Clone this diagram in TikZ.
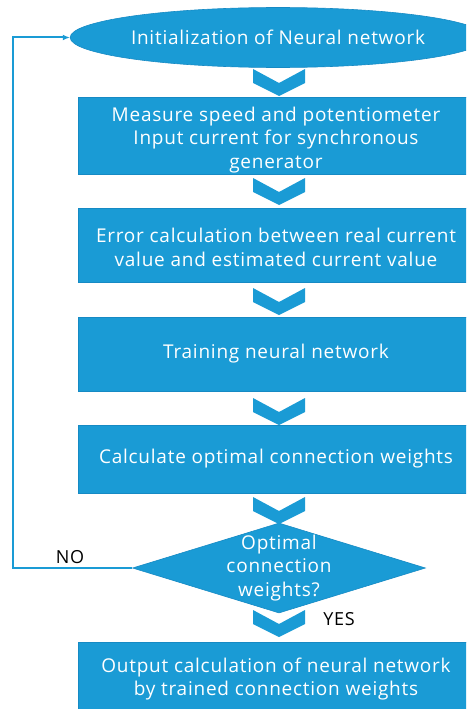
\documentclass[tikz,border=0pt]{standalone}
\usepackage{fontspec}
\setmainfont{Open Sans}
\usetikzlibrary{shapes.geometric,arrows.meta}
\definecolor{flowblue}{RGB}{26,155,213}
\definecolor{flowedge}{RGB}{22,138,196}
\newfontfamily\boxfont[LetterSpace=4]{Open Sans}
\tikzset{
  steptext/.style={text=white, align=center, inner sep=0pt,
    font=\boxfont\fontsize{19}{23.5}\selectfont},
  stepbox/.style={rectangle, fill=flowblue, draw=flowedge, line width=0.6pt,
    minimum width=396pt, inner sep=0pt, steptext},
  startbox/.style={ellipse, fill=flowblue, draw=flowedge, line width=0.6pt,
    minimum width=394pt, minimum height=60pt, inner sep=0pt, steptext},
  decbox/.style={diamond, fill=flowblue, draw=flowedge, line width=0.6pt,
    minimum width=293pt, minimum height=90pt, inner sep=0pt},
  answer/.style={text=black, inner sep=0pt, font=\boxfont\fontsize{18}{20}\selectfont},
  loopline/.style={draw=flowblue, line width=2pt,
    -{Latex[length=7pt,width=6pt]}},
  pics/chevron/.style={code={
    \fill[flowblue] (-26,0) -- (0,14) -- (26,0) -- (26,14) -- (0,27) -- (-26,14) -- cycle;
  }}
}
\begin{document}
\begin{tikzpicture}[x=1pt,y=-1pt]
  \useasboundingbox (0,0) rectangle (466,709);
  \clip (0,0) rectangle (466,709);

  % process steps
  \node[startbox] (init) at (278,37.5) {Initialization of Neural network};
  \node[stepbox, minimum height=77pt] (measure) at (276,135.5) {};
  \node[steptext] (measuretext) at (276,140)
    {Measure speed and potentiometer\\Input current for synchronous\\generator};
  \node[stepbox, minimum height=74pt] (error) at (276,245) {};
  \node[steptext] (errortext) at (276,247.5)
    {Error calculation between real current\\value and estimated current value};
  \node[stepbox, minimum height=74pt] (train) at (276,354) {Training neural network};
  \node[stepbox, minimum height=68pt] (weights) at (276,459)
    {Calculate optimal connection weights};
  \node[decbox] (check) at (279,568) {};
  \node[steptext] (checktext) at (279,568) {Optimal\\connection\\weights?};
  \node[stepbox, minimum height=74pt] (output) at (276,679)
    {Output calculation of neural network\\by trained connection weights};

  % chevrons between the steps
  \pic at (279,69) {chevron};
  \pic at (279,178) {chevron};
  \pic at (279,288) {chevron};
  \pic at (279,398) {chevron};
  \pic at (279,497) {chevron};
  \pic at (279,610) {chevron};

  % loop back when the weights are not optimal
  \coordinate (loopcorner) at (13,568);
  \draw[loopline] (check.west) -- (loopcorner) |- (init.west);

  \node[answer] (no) at (70,557) {NO};
  \node[answer] (yes) at (339,619) {YES};
\end{tikzpicture}
\end{document}
